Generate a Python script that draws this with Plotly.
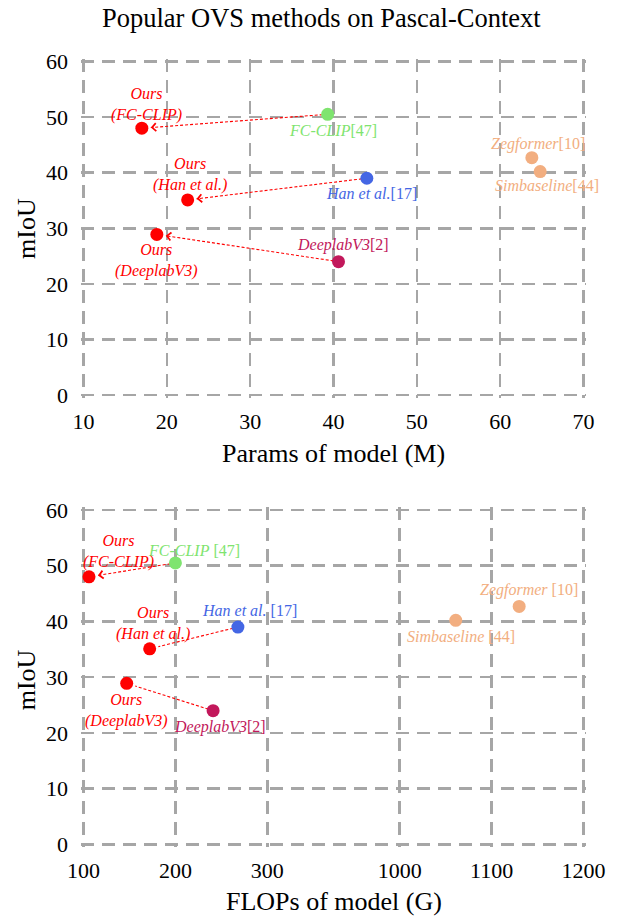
import numpy as np
import plotly.graph_objects as go

# ---------------- data ----------------
methods = ["FC-CLIP", "Han et al.", "DeeplabV3", "Zegformer", "Simbaseline"]
refs = ["[47]", "[17]", "[2]", "[10]", "[44]"]
base_params = [39.3, 44.0, 40.6, 63.8, 64.8]
base_flops = [200, 268, 241, 1130, 1061]
base_miou = [50.5, 39.0, 24.0, 42.7, 40.2]

ours_names = ["FC-CLIP", "Han et al.", "DeeplabV3"]
ours_params = [17.0, 22.5, 18.8]
ours_flops = [106, 172, 147]
ours_miou = [48.0, 35.1, 28.9]

params_ticks = [10, 20, 30, 40, 50, 60, 70]
flops_ticks = [100, 200, 300, 1000, 1100, 1200]
miou_ticks = [0, 10, 20, 30, 40, 50, 60]

title_text = "Popular OVS methods on Pascal-Context"
xtitle_top = "Params of model (M)"
xtitle_bot = "FLOPs of model (G)"
ytitle = "mIoU"

# ---------------- style / geometry ----------------
FONT = "Liberation Serif, Times New Roman, serif"
base_colors = ["#7FE46F", "#4466E4", "#C2185B", "#F2AE80", "#F2AE80"]
OURS = "#FF0000"
GRID = "#A6A6A6"
W, H = 618, 918
PAD = 2.5                  # keep edge grid lines just inside the plot area
GX0, GX1 = 83, 584         # pixel columns of first/last vertical grid line
TOP_PX = (61, 395)         # pixel rows of top plot frame
BOT_PX = (510, 845)        # pixel rows of bottom plot frame
ML, MR = GX0 - PAD, W - GX1 - PAD
MT, MB = TOP_PX[0] - PAD, H - BOT_PX[1] - PAD
PW = W - ML - MR
PH = H - MT - MB


def paper_y(p):
    return (H - MB - p) / PH


def paper_x(p):
    return (p - ML) / PW


GAP = 1.44  # broken-axis gap (in units of 100 G) between 300 and 1000


def flops_pos(v):
    v = np.asarray(v, dtype=float)
    return np.where(v <= 300, (v - 100) / 100.0, 2 + GAP + (v - 1000) / 100.0)


sx_top = (GX1 - GX0) / 60.0
sy_top = (TOP_PX[1] - TOP_PX[0]) / 60.0
sx_bot = (GX1 - GX0) / (4 + GAP)
sy_bot = (BOT_PX[1] - BOT_PX[0]) / 60.0

panels = [
    dict(xa="x", ya="y", bx=np.asarray(base_params, float), ox=np.asarray(ours_params, float),
         sx=sx_top, sy=sy_top),
    dict(xa="x2", ya="y2", bx=flops_pos(base_flops), ox=flops_pos(ours_flops),
         sx=sx_bot, sy=sy_bot),
]

by = np.asarray(base_miou, float)
oy = np.asarray(ours_miou, float)

fig = go.Figure()
annotations = []
STANDOFF = 9

for pi, P in enumerate(panels):
    for i in range(len(ours_names)):
        dxp = (P["bx"][i] - P["ox"][i]) * P["sx"]
        dyp = (by[i] - oy[i]) * P["sy"]
        dist = np.hypot(dxp, dyp)
        t = STANDOFF / dist
        ex = P["ox"][i] + (P["bx"][i] - P["ox"][i]) * t
        ey = oy[i] + (by[i] - oy[i]) * t
        fig.add_trace(go.Scatter(x=[P["bx"][i], ex], y=[by[i], ey], mode="lines",
                                 line=dict(color=OURS, width=1.1, dash="3px,2px"),
                                 xaxis=P["xa"], yaxis=P["ya"], hoverinfo="skip"))
        L = STANDOFF + 4
        annotations.append(dict(x=P["ox"][i], y=oy[i], xref=P["xa"], yref=P["ya"],
                                ax=dxp / dist * L, ay=-dyp / dist * L, text="",
                                showarrow=True, arrowhead=4, arrowsize=1.4, arrowwidth=1.1,
                                arrowcolor=OURS, standoff=STANDOFF))
    fig.add_trace(go.Scatter(x=P["bx"], y=by, mode="markers",
                             marker=dict(size=13, color=base_colors, line=dict(width=0)),
                             xaxis=P["xa"], yaxis=P["ya"]))
    fig.add_trace(go.Scatter(x=P["ox"], y=oy, mode="markers",
                             marker=dict(size=13, color=OURS, line=dict(width=0)),
                             xaxis=P["xa"], yaxis=P["ya"]))

# label offsets (px): (dx, dy-up)
base_off = [
    [(5, -16), (5, -15), (4, 17), (6, 14), (7, -14)],
    [(19, 12), (12, 17), (7, -16), (10, 16), (5, -16)],
]
ours_off = [
    [(5, 24), (2, 25), (0, -26)],
    [(29, 25), (3, 25), (0, -27)],
]
LBL = 16
for pi, P in enumerate(panels):
    sep = "" if pi == 0 else " "
    for i, m in enumerate(methods):
        s = sep if m != "DeeplabV3" else ""
        annotations.append(dict(x=P["bx"][i], y=by[i], xref=P["xa"], yref=P["ya"],
                                text=f"<i>{m}</i>{s}{refs[i]}", showarrow=False,
                                xanchor="center", yanchor="middle",
                                xshift=base_off[pi][i][0], yshift=base_off[pi][i][1],
                                font=dict(family=FONT, size=LBL, color=base_colors[i])))
    for i, m in enumerate(ours_names):
        annotations.append(dict(x=P["ox"][i], y=oy[i], xref=P["xa"], yref=P["ya"],
                                text=f"<i>Ours</i><br><i>({m})</i>", showarrow=False,
                                xanchor="center", yanchor="middle",
                                xshift=ours_off[pi][i][0], yshift=ours_off[pi][i][1],
                                font=dict(family=FONT, size=LBL, color=OURS)))

annotations.append(dict(x=paper_x(321), y=paper_y(17), xref="paper", yref="paper",
                        text=title_text, showarrow=False, xanchor="center", yanchor="middle",
                        font=dict(family=FONT, size=26.5, color="black")))
annotations.append(dict(x=paper_x(334), y=paper_y(454), xref="paper", yref="paper",
                        text=xtitle_top, showarrow=False, xanchor="center", yanchor="middle",
                        font=dict(family=FONT, size=26, color="black")))
annotations.append(dict(x=paper_x(334), y=paper_y(902), xref="paper", yref="paper",
                        text=xtitle_bot, showarrow=False, xanchor="center", yanchor="middle",
                        font=dict(family=FONT, size=26, color="black")))
for yc in (228, 680):
    annotations.append(dict(x=paper_x(26), y=paper_y(yc), xref="paper", yref="paper",
                            text=ytitle, showarrow=False, textangle=-90,
                            xanchor="center", yanchor="middle",
                            font=dict(family=FONT, size=26, color="black")))

grid = dict(showgrid=True, gridcolor=GRID, gridwidth=2.5, griddash="13px,8px",
            zeroline=False, showline=False, ticks="", fixedrange=True,
            tickfont=dict(family=FONT, size=22, color="black"))

fig.update_layout(
    width=W, height=H, margin=dict(l=ML, r=MR, t=MT, b=MB),
    paper_bgcolor="white", plot_bgcolor="white", showlegend=False,
    hovermode=False,
    xaxis=dict(domain=[0, 1], anchor="y",
               range=[10 - PAD / sx_top, 70 + PAD / sx_top],
               tickvals=params_ticks, ticklabelstandoff=8, **grid),
    yaxis=dict(domain=[paper_y(TOP_PX[1] + PAD), 1], anchor="x",
               range=[0 - PAD / sy_top, 60 + PAD / sy_top],
               tickvals=miou_ticks, ticklabelstandoff=12, **grid),
    xaxis2=dict(domain=[0, 1], anchor="y2",
                range=[0 - PAD / sx_bot, 4 + GAP + PAD / sx_bot],
                tickvals=flops_pos(flops_ticks).tolist(),
                ticktext=[str(v) for v in flops_ticks], ticklabelstandoff=8, **grid),
    yaxis2=dict(domain=[0, paper_y(BOT_PX[0] - PAD)], anchor="x2",
                range=[0 - PAD / sy_bot, 60 + PAD / sy_bot],
                tickvals=miou_ticks, ticklabelstandoff=12, **grid),
    annotations=annotations,
)

fig.write_html("out.html", config={"displayModeBar": False, "staticPlot": True},
               post_script="document.body.style.margin='0px';")
